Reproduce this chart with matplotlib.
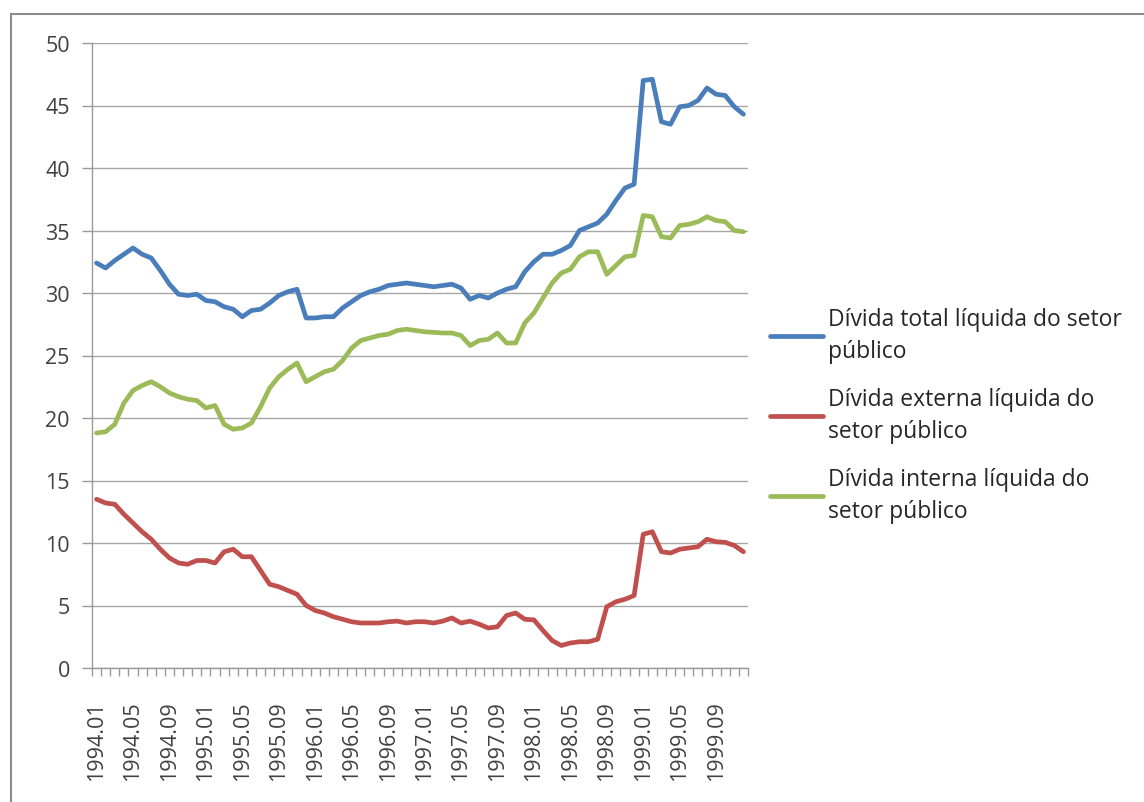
import matplotlib.pyplot as plt
from matplotlib.patches import Rectangle
import numpy as np

# Months 1994.01 .. 1999.12
months = [f"{y}.{m:02d}" for y in range(1994, 2000) for m in range(1, 13)]

# Dívida total líquida do setor público (% PIB)
divida_total = [
    32.4, 32.0, 32.6, 33.1, 33.6, 33.1, 32.8, 31.8, 30.7, 29.9, 29.8, 29.9,
    29.4, 29.3, 28.9, 28.7, 28.1, 28.6, 28.7, 29.2, 29.8, 30.1, 30.3, 28.0,
    28.0, 28.1, 28.1, 28.8, 29.3, 29.8, 30.1, 30.3, 30.6, 30.7, 30.8, 30.7,
    30.6, 30.5, 30.6, 30.7, 30.4, 29.5, 29.8, 29.6, 30.0, 30.3, 30.5, 31.7,
    32.5, 33.1, 33.1, 33.4, 33.8, 35.0, 35.3, 35.6, 36.3, 37.4, 38.4, 38.7,
    47.0, 47.1, 43.7, 43.5, 44.9, 45.0, 45.4, 46.4, 45.9, 45.8, 44.9, 44.3,
]

# Dívida externa líquida do setor público
divida_externa = [
    13.5, 13.2, 13.1, 12.3, 11.6, 10.9, 10.3, 9.5, 8.8, 8.4, 8.3, 8.6,
    8.6, 8.4, 9.3, 9.5, 8.9, 8.9, 7.8, 6.7, 6.5, 6.2, 5.9, 5.0,
    4.6, 4.4, 4.1, 3.9, 3.7, 3.6, 3.6, 3.6, 3.7, 3.75, 3.6, 3.7,
    3.7, 3.6, 3.75, 4.0, 3.6, 3.75, 3.5, 3.2, 3.3, 4.2, 4.4, 3.9,
    3.85, 3.0, 2.2, 1.8, 2.0, 2.1, 2.1, 2.3, 4.9, 5.3, 5.5, 5.8,
    10.7, 10.9, 9.3, 9.2, 9.5, 9.6, 9.7, 10.3, 10.1, 10.05, 9.8, 9.3,
]

# Dívida interna líquida do setor público
divida_interna = [
    18.8, 18.9, 19.5, 21.2, 22.2, 22.6, 22.9, 22.5, 22.0, 21.7, 21.5, 21.4,
    20.8, 21.0, 19.5, 19.1, 19.2, 19.6, 20.9, 22.4, 23.3, 23.9, 24.4, 22.9,
    23.3, 23.7, 23.9, 24.6, 25.6, 26.2, 26.4, 26.6, 26.7, 27.0, 27.1, 27.0,
    26.9, 26.85, 26.8, 26.8, 26.6, 25.8, 26.2, 26.3, 26.8, 26.0, 26.0, 27.6,
    28.4, 29.6, 30.8, 31.6, 31.9, 32.9, 33.3, 33.3, 31.5, 32.2, 32.9, 33.0,
    36.2, 36.1, 34.5, 34.4, 35.4, 35.5, 35.7, 36.1, 35.8, 35.7, 35.0, 34.9,
]

labels = [
    "Dívida total líquida do setor\npúblico",
    "Dívida externa líquida do\nsetor público",
    "Dívida interna líquida do\nsetor público",
]
colors = ["#4A7EBB", "#C0504D", "#9BBB59"]

plt.rcParams['font.family'] = ['Open Sans', 'DejaVu Sans']

fig = plt.figure(figsize=(11.44, 8.03), dpi=100)
ax = fig.add_axes([92 / 1144, 1 - 669 / 803, (748 - 92) / 1144, (669 - 44) / 803])

# chart frame (runs off the right and bottom edges in the original)
fig.patches.append(Rectangle((11 / 1144, -0.05), 1.2, 1 - 15 / 803 + 0.05,
                             transform=fig.transFigure, fill=False,
                             edgecolor="#8c8c8c", linewidth=1.5))

x = np.arange(len(months))
for vals, lab, col in zip([divida_total, divida_externa, divida_interna], labels, colors):
    ax.plot(x, vals, color=col, linewidth=3.4, label=lab, solid_capstyle='round')

ax.set_xlim(-0.5, len(months) - 0.5)
ax.set_ylim(0, 50)

# y axis
ax.set_yticks(np.arange(0, 51, 5))
ax.yaxis.grid(True, color="#a6a6a6", linewidth=1.0)
ax.set_axisbelow(True)
ax.tick_params(axis='y', length=7, width=1, color="#9a9a9a", labelsize=15.5,
               labelcolor="#404040", pad=9)

# x axis: labels every 4 months, ticks at every category boundary
ax.set_xticks(x[::4])
ax.set_xticklabels(months[::4], rotation=90)
ax.set_xticks(np.arange(-0.5, len(months), 1), minor=True)
ax.tick_params(axis='x', which='major', length=0, labelsize=15.5,
               labelcolor="#404040", pad=23)
ax.tick_params(axis='x', which='minor', length=6, width=1, color="#9a9a9a")

for side in ['top', 'right']:
    ax.spines[side].set_visible(False)
for side in ['left', 'bottom']:
    ax.spines[side].set_color("#9a9a9a")
    ax.spines[side].set_linewidth(1.0)

leg = ax.legend(loc='center left', bbox_to_anchor=((770 - 92) / 656, (669 - 416) / 625),
                frameon=False, fontsize=16.5, handlelength=2.3, handletextpad=0.25,
                labelspacing=1.05, borderpad=0, borderaxespad=0,
                labelcolor="#262626")
for t in leg.get_texts():
    t.set_linespacing(1.45)

fig.savefig("out.png", dpi=100)
